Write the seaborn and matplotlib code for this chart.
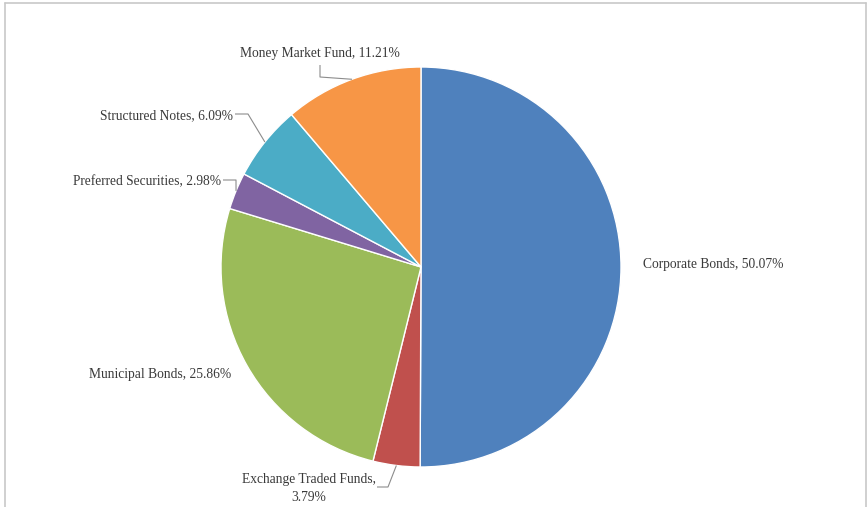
import numpy as np
import matplotlib
matplotlib.use("Agg")
import matplotlib.pyplot as plt
import seaborn as sns

# Portfolio allocation by asset type (percent of holdings)
categories = ["Corporate Bonds", "Exchange Traded Funds", "Municipal Bonds",
              "Preferred Securities", "Structured Notes", "Money Market Fund"]
shares = [50.07, 3.79, 25.86, 2.98, 6.09, 11.21]
colors = ["#4F81BD", "#C0504D", "#9BBB59", "#8064A2", "#4BACC6", "#F79646"]

sns.set_theme(style="white")
plt.rcParams["font.family"] = ["Liberation Serif", "DejaVu Serif"]

W, H = 867, 507
fig = plt.figure(figsize=(W / 100, H / 100), dpi=100)
ax = fig.add_axes([0, 0, 1, 1])

cx, cy, r = 421, 267, 200
# y axis is inverted: start at -90 (visual top), counterclock=True -> visual clockwise
wedges, _ = ax.pie(shares, colors=colors, startangle=-90, counterclock=True,
                   center=(cx, cy), radius=r, frame=True,
                   wedgeprops=dict(edgecolor="white", linewidth=1.0))
ax.set_xlim(0, W)
ax.set_ylim(H, 0)   # pixel-style coordinates, y grows downward
ax.set_aspect("equal")
ax.axis("off")

# midpoint of each wedge on the rim (visual clockwise from top)
cum = np.cumsum([0] + shares)
mid_frac = (cum[:-1] + cum[1:]) / 2 / 100.0
theta = 2 * np.pi * mid_frac
rim_x = cx + r * np.sin(theta)
rim_y = cy - r * np.cos(theta)

txt_color = "#3A3A3A"
line_color = "#8C8C8C"
fs = 9.75
dy = 1.5  # nudge text down slightly

def label(text, x, y, ha):
    ax.text(x, y + dy, text, ha=ha, va="center", fontsize=fs, color=txt_color)

def leader(i, pts):
    xs = [p[0] for p in pts] + [rim_x[i]]
    ys = [p[1] for p in pts] + [rim_y[i]]
    ax.plot(xs, ys, color=line_color, lw=0.8, solid_capstyle="butt")

pct = [f"{v:.2f}%" for v in shares]

# Corporate Bonds
label(f"{categories[0]}, {pct[0]}", 643, 263, "left")
# Exchange Traded Funds (two lines)
label(f"{categories[1]},", 309, 478, "center")
label(pct[1], 309, 496, "center")
leader(1, [(377, 487), (388, 487)])
# Municipal Bonds
label(f"{categories[2]}, {pct[2]}", 231, 373, "right")
# Preferred Securities
label(f"{categories[3]}, {pct[3]}", 221, 180, "right")
leader(3, [(223, 180), (236, 180)])
# Structured Notes
label(f"{categories[4]}, {pct[4]}", 233, 114, "right")
leader(4, [(235, 114), (248, 114)])
# Money Market Fund
label(f"{categories[5]}, {pct[5]}", 320, 52, "center")
leader(5, [(320, 65), (320, 77)])

# chart area border
border = "#C8C8C8"
for xs, ys in [([4.5, 4.5], [507, 2.5]), ([4.5, 865.5], [2.5, 2.5]),
               ([865.5, 865.5], [2.5, 507])]:
    fig.add_artist(plt.Line2D([x / W for x in xs], [1 - y / H for y in ys],
                              color=border, lw=1.2, transform=fig.transFigure))

fig.savefig("out.png", dpi=100, facecolor="white")
